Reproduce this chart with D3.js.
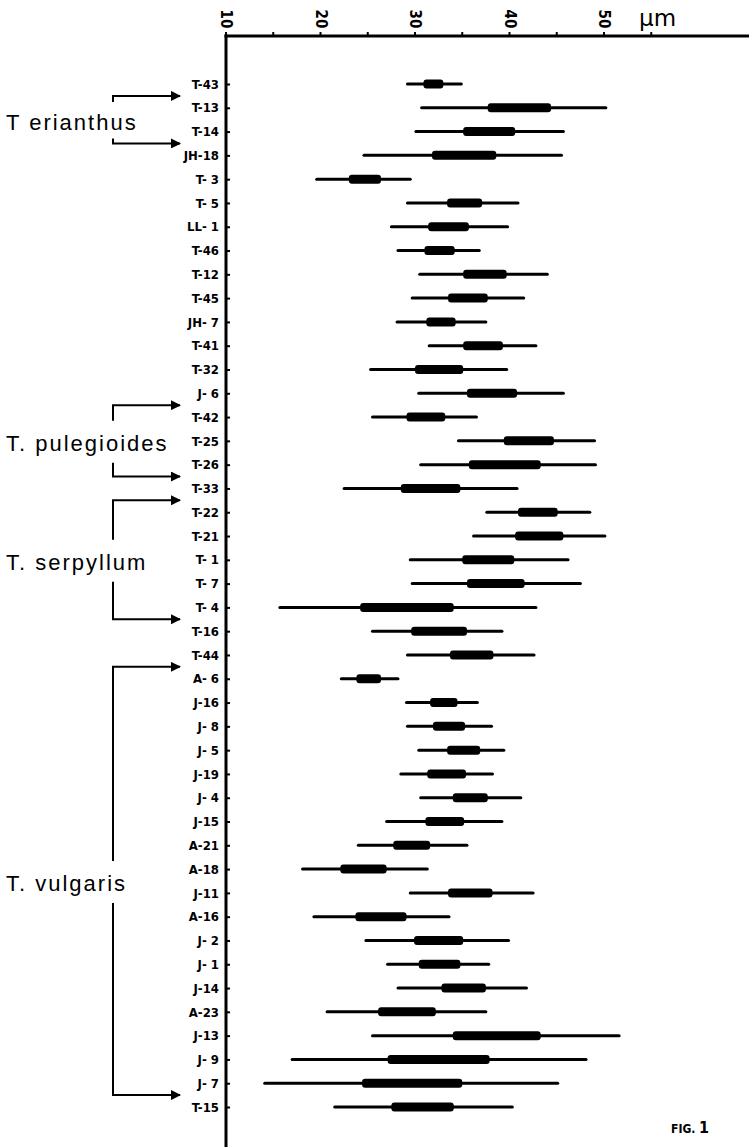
<!DOCTYPE html>
<html>
<head>
<meta charset="utf-8">
<script src="https://cdn.jsdelivr.net/npm/d3@7"></script>
<style>
body { margin: 0; background: #fff; }
</style>
</head>
<body>
<div></div>
<script>
const width = 752, height = 1147;

// samples, top to bottom
const samples = ["T-43", "T-13", "T-14", "JH-18", "T- 3", "T- 5", "LL- 1", "T-46", "T-12", "T-45",
    "JH- 7", "T-41", "T-32", "J- 6", "T-42", "T-25", "T-26", "T-33", "T-22", "T-21",
    "T- 1", "T- 7", "T- 4", "T-16", "T-44", "A- 6", "J-16", "J- 8", "J- 5", "J-19",
    "J- 4", "J-15", "A-21", "A-18", "J-11", "A-16", "J- 2", "J- 1", "J-14", "A-23",
    "J-13", "J- 9", "J- 7", "T-15"];
// thin line: full range (µm)
const rangeMin = [29.2, 30.7, 30.1, 24.6, 19.6, 29.2, 27.5, 28.2, 30.5, 29.7,
    28.1, 31.5, 25.3, 30.4, 25.5, 34.6, 30.6, 22.5, 37.6, 36.2,
    29.5, 29.7, 15.7, 25.5, 29.2, 22.2, 29.1, 29.2, 30.4, 28.5,
    30.6, 27.0, 24.0, 18.1, 29.5, 19.3, 24.8, 27.1, 28.2, 20.7,
    25.5, 17.0, 14.1, 21.5];
const rangeMax = [34.9, 50.2, 45.7, 45.5, 29.5, 40.9, 39.8, 36.8, 44.0, 41.5,
    37.5, 42.8, 39.7, 45.7, 36.5, 49.0, 49.1, 40.8, 48.5, 50.1,
    46.2, 47.5, 42.8, 39.2, 42.6, 28.2, 36.6, 38.1, 39.4, 38.2,
    41.2, 39.2, 35.5, 31.3, 42.5, 33.6, 39.9, 37.8, 41.8, 37.5,
    51.6, 48.1, 45.1, 40.3];
// thick bar
const barMin = [30.9, 37.7, 35.1, 31.8, 23.0, 33.4, 31.4, 31.0, 35.1, 33.5,
    31.2, 35.1, 30.0, 35.5, 29.1, 39.4, 35.7, 28.5, 40.9, 40.6,
    35.0, 35.5, 24.2, 29.6, 33.7, 23.8, 31.6, 31.9, 33.4, 31.3,
    34.0, 31.1, 27.7, 22.1, 33.5, 23.7, 29.9, 30.4, 32.8, 26.1,
    34.0, 27.1, 24.4, 27.5];
const barMax = [33.0, 44.4, 40.6, 38.6, 26.4, 37.1, 35.7, 34.2, 39.7, 37.7,
    34.3, 39.3, 35.1, 40.8, 33.2, 44.7, 43.3, 34.8, 45.1, 45.7,
    40.5, 41.6, 34.1, 35.5, 38.3, 26.4, 34.5, 35.3, 36.9, 35.4,
    37.7, 35.2, 31.6, 27.0, 38.2, 29.1, 35.1, 34.8, 37.5, 32.2,
    43.3, 37.9, 35.0, 34.1];

// species brackets: first and last sample index of each
const groupNames = ["T erianthus", "T. pulegioides", "T. serpyllum", "T. vulgaris"];
const groupFirst = [1, 14, 18, 25];
const groupLast = [2, 16, 22, 42];

const majorTicks = [10, 20, 30, 40, 50];
const minorTicks = [15, 25, 35, 45, 55];

const rows = samples.map((s, i) => ({
    id: s, lo: rangeMin[i], hi: rangeMax[i], b0: barMin[i], b1: barMax[i]
}));

const x = d3.scaleLinear().domain([10, 50]).range([226, 604]);
const y = d3.scalePoint().domain(samples).range([84, 1107]);
const step = y.step();

const svg = d3.select("div").append("svg")
    .attr("width", width)
    .attr("height", height)
    .style("font-family", "'DejaVu Sans Condensed', 'Liberation Sans Narrow', sans-serif");

// top axis
const axisY = 36;
svg.append("line")
    .attr("x1", x(10) - 1.5).attr("x2", 749)
    .attr("y1", axisY).attr("y2", axisY)
    .attr("stroke", "#000").attr("stroke-width", 3);

svg.append("g")
    .selectAll("line")
    .data(majorTicks.concat(minorTicks))
    .join("line")
    .attr("x1", d => x(d)).attr("x2", d => x(d))
    .attr("y1", axisY).attr("y2", axisY - 4)
    .attr("stroke", "#000").attr("stroke-width", 2);

svg.append("g")
    .selectAll("text")
    .data(majorTicks)
    .join("text")
    .attr("transform", d => `translate(${x(d)},19) rotate(90)`)
    .attr("text-anchor", "middle")
    .attr("dominant-baseline", "central")
    .style("font-size", "15px")
    .style("font-weight", "bold")
    .text(d => d);

svg.append("text")
    .attr("x", 639).attr("y", 26)
    .style("font-family", "'DejaVu Sans', sans-serif")
    .style("font-size", "23px")
    .text("µm");

// left axis with sample labels
const yAxis = svg.append("g")
    .attr("transform", `translate(${x(10)},0)`)
    .call(d3.axisLeft(y).tickSize(-4).tickPadding(7));
yAxis.select(".domain").remove();
yAxis.selectAll(".tick line").attr("stroke-width", 2);
yAxis.selectAll(".tick text")
    .style("font-size", "13px")
    .style("font-weight", "bold")
    .style("font-family", "'DejaVu Sans Condensed', 'Liberation Sans Narrow', sans-serif")
    .style("white-space", "pre");

svg.append("line")
    .attr("x1", x(10)).attr("x2", x(10))
    .attr("y1", axisY - 1.5).attr("y2", height)
    .attr("stroke", "#000").attr("stroke-width", 3);

// ranges
const marks = svg.append("g");
marks.selectAll("line.range")
    .data(rows)
    .join("line")
    .attr("class", "range")
    .attr("x1", d => x(d.lo)).attr("x2", d => x(d.hi))
    .attr("y1", d => y(d.id)).attr("y2", d => y(d.id))
    .attr("stroke", "#000")
    .attr("stroke-width", 3)
    .attr("stroke-linecap", "round");

marks.selectAll("rect.bar")
    .data(rows)
    .join("rect")
    .attr("class", "bar")
    .attr("x", d => x(d.b0))
    .attr("width", d => x(d.b1) - x(d.b0))
    .attr("y", d => y(d.id) - 4.5)
    .attr("height", 9)
    .attr("rx", 3)
    .attr("fill", "#000");

// species brackets
svg.append("defs").append("marker")
    .attr("id", "arrow")
    .attr("viewBox", "0 0 10 10")
    .attr("refX", 9).attr("refY", 5)
    .attr("markerWidth", 10).attr("markerHeight", 10)
    .attr("markerUnits", "userSpaceOnUse")
    .attr("orient", "auto")
    .append("path")
    .attr("d", "M0,0L10,5L0,10z")
    .attr("fill", "#000");

const bx = 113, tipX = 180;
groupNames.forEach((name, i) => {
    const top = y(samples[groupFirst[i]]) - step / 2;
    const bottom = y(samples[groupLast[i]]) + step / 2;
    const base = (top + bottom) / 2 + 10;
    const g = svg.append("g")
        .attr("fill", "none")
        .attr("stroke", "#000")
        .attr("stroke-width", 2);
    g.append("path")
        .attr("d", `M${bx},${Math.max(base - 30, top + 6)}V${top}H${tipX}`)
        .attr("marker-end", "url(#arrow)");
    g.append("path")
        .attr("d", `M${bx},${Math.min(base + 12, bottom - 5)}V${bottom}H${tipX}`)
        .attr("marker-end", "url(#arrow)");
    svg.append("text")
        .attr("x", 6).attr("y", base)
        .style("font-family", "'Liberation Sans', 'DejaVu Sans', sans-serif")
        .style("font-size", "22px")
        .style("letter-spacing", "2px")
        .text(name);
});

svg.append("text")
    .attr("x", 671).attr("y", 1133)
    .style("font-weight", "bold")
    .style("font-size", "12px")
    .text("FIG. ")
    .append("tspan")
    .style("font-size", "16px")
    .text("1");
</script>
</body>
</html>
